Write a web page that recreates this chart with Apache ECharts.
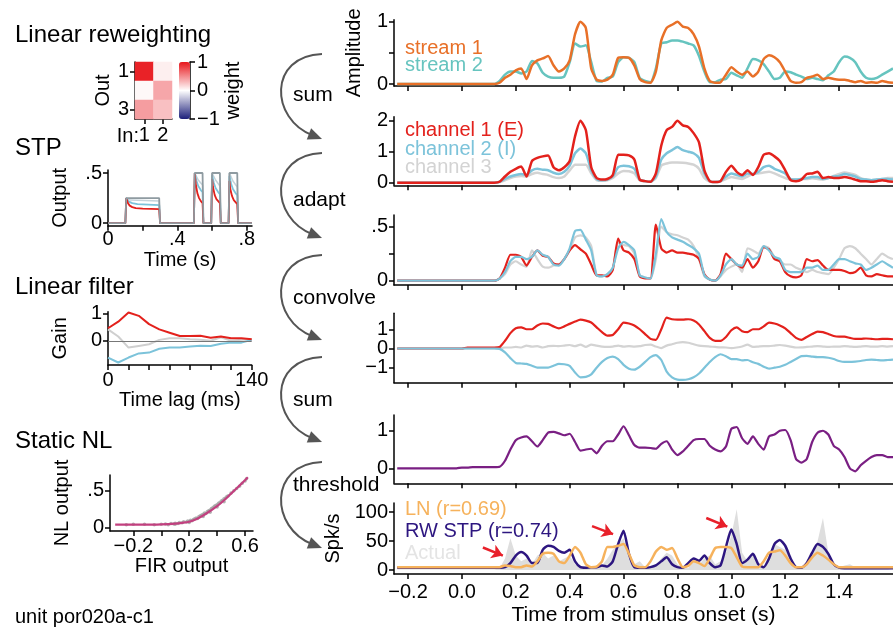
<!DOCTYPE html>
<html>
<head>
<meta charset="utf-8">
<script src="https://cdn.jsdelivr.net/npm/echarts@6/dist/echarts.min.js"></script>
<style>
html, body { margin: 0; padding: 0; background: #fff; }
#chart { width: 893px; height: 630px; }
</style>
</head>
<body>
<div id="chart"></div>
<script>
// ---- data ----
// traces on the right are sampled every 20 ms from -0.24 s
const tStart = -0.24, tStep = 0.02;
const timeTicks = [-0.2, 0, 0.2, 0.4, 0.6, 0.8, 1.0, 1.2, 1.4];

// stimulus envelopes
const stream1 = [0,0,0,0,0,0,0,0,0,0,0,0,0,0,0,0,0,0,0,
  0.02,0.1,0.15,0.22,0.25,0.08,0.3,0.38,0.41,0.45,
  0.3,0.2,0.25,0.38,0.8,1.0,0.9,0.25,0.07,0.05,
  0.07,0.15,0.42,0.43,0.42,0.3,0.08,0.03,0.02,0.2,
  0.7,0.9,0.95,1.0,0.92,0.9,0.8,0.6,0.25,0.05,
  0.02,0.03,0.15,0.27,0.2,0.15,0.2,0.12,0.2,0.4,
  0.46,0.43,0.35,0.2,0.05,0.02,0.03,0.1,0.12,0.15,
  0.08,0.1,0.08,0.07,0.07,0.05,0.03,0.05,0.02,0.03,
  0.02,0.05,0.03,0.02];
const stream2 = [0,0,0,0,0,0,0,0,0,0,0,0,0,0,0,0,0,0,0,
  0.05,0.15,0.2,0.2,0.17,0.2,0.37,0.33,0.18,0.12,
  0.1,0.1,0.12,0.35,0.65,0.6,0.62,0.35,0.05,0.04,
  0.1,0.12,0.35,0.43,0.42,0.35,0.1,0.05,0.03,0.25,
  0.65,0.67,0.7,0.7,0.68,0.65,0.62,0.45,0.2,0.03,
  0.03,0.07,0.08,0.18,0.14,0.1,0.25,0.4,0.38,0.32,
  0.2,0.08,0.1,0.2,0.19,0.15,0.12,0.08,0.1,0.08,
  0.06,0.14,0.2,0.35,0.44,0.42,0.35,0.2,0.1,0.08,
  0.1,0.15,0.2,0.25];

// reweighted channels
const chan1 = [0,0,0,0,0,0,0,0,0,0,0,0,0,0,0,0,0,0,0,
  0.03,0.2,0.35,0.45,0.52,0.2,0.7,0.8,0.85,0.88,
  0.5,0.4,0.5,0.7,1.5,2.0,1.7,0.5,0.15,0.1,
  0.12,0.25,0.9,0.9,0.88,0.75,0.1,0.05,0.03,0.3,
  1.2,1.7,1.8,2.0,1.85,1.8,1.6,1.3,0.4,0.05,
  0.02,0.05,0.35,0.55,0.35,0.25,0.4,0.25,0.5,0.9,
  0.95,0.85,0.7,0.4,0.08,0.05,0.1,0.28,0.3,0.35,
  0.15,0.18,0.15,0.15,0.18,0.15,0.1,0.05,0.05,0.03,
  0.05,0.08,0.05,0.03];
const chan2 = [0,0,0,0,0,0,0,0,0,0,0,0,0,0,0,0,0,0,0,
  0.03,0.12,0.2,0.25,0.28,0.25,0.4,0.45,0.42,0.4,
  0.32,0.28,0.35,0.55,0.95,1.1,0.95,0.4,0.12,0.08,
  0.1,0.2,0.5,0.55,0.53,0.45,0.1,0.05,0.03,0.2,
  0.75,0.95,1.05,1.15,1.05,1.0,0.95,0.8,0.3,0.05,
  0.02,0.05,0.2,0.3,0.25,0.2,0.3,0.28,0.35,0.5,
  0.55,0.45,0.38,0.3,0.12,0.1,0.12,0.15,0.18,0.18,
  0.12,0.15,0.2,0.22,0.28,0.25,0.2,0.12,0.1,0.08,
  0.1,0.12,0.12,0.1];
const chan3 = [0,0,0,0,0,0,0,0,0,0,0,0,0,0,0,0,0,0,0,
  0.02,0.08,0.15,0.2,0.22,0.2,0.28,0.32,0.28,0.25,
  0.18,0.15,0.2,0.4,0.58,0.58,0.58,0.3,0.08,0.06,
  0.08,0.15,0.3,0.38,0.37,0.3,0.08,0.04,0.03,0.15,
  0.55,0.62,0.65,0.65,0.64,0.62,0.58,0.45,0.15,0.03,
  0.02,0.04,0.12,0.18,0.15,0.12,0.2,0.28,0.3,0.33,
  0.35,0.3,0.22,0.15,0.1,0.1,0.12,0.12,0.14,0.12,
  0.1,0.15,0.22,0.28,0.33,0.3,0.25,0.15,0.1,0.08,
  0.1,0.12,0.15,0.15];

// after STP
const adapt1 = [0,0,0,0,0,0,0,0,0,0,0,0,0,0,0,0,0,0,0,
  0.02,0.12,0.24,0.24,0.22,0.14,0.22,0.28,0.23,0.22,
  0.16,0.15,0.2,0.28,0.33,0.29,0.25,0.15,0.05,0.05,
  0.04,0.1,0.39,0.28,0.26,0.2,0.04,0.02,0.02,0.52,
  0.3,0.26,0.28,0.26,0.26,0.25,0.24,0.2,0.06,0.01,
  0,0.06,0.25,0.2,0.15,0.12,0.2,0.12,0.18,0.31,
  0.29,0.2,0.18,0.08,0.04,0.03,0.05,0.2,0.18,0.19,
  0.14,0.1,0.1,0.1,0.09,0.07,0.08,0.12,0.05,0.04,
  0.06,0.05,0.04,0.04];
const adapt2 = [0,0,0,0,0,0,0,0,0,0,0,0,0,0,0,0,0,0,0,
  0.02,0.08,0.18,0.22,0.22,0.2,0.22,0.28,0.24,0.22,
  0.15,0.14,0.2,0.3,0.46,0.47,0.38,0.28,0.05,0.04,
  0.06,0.12,0.3,0.36,0.33,0.28,0.05,0.03,0.02,0.25,
  0.57,0.45,0.4,0.38,0.36,0.33,0.3,0.25,0.05,0.01,
  0,0.05,0.15,0.2,0.15,0.14,0.25,0.2,0.22,0.32,
  0.28,0.22,0.2,0.1,0.08,0.08,0.08,0.12,0.12,0.14,
  0.1,0.1,0.15,0.2,0.2,0.18,0.16,0.15,0.1,0.12,
  0.15,0.18,0.15,0.12];
const adapt3 = [0,0,0,0,0,0,0,0,0,0,0,0,0,0,0,0,0,0,0,
  0.02,0.06,0.15,0.18,0.15,0.13,0.28,0.2,0.13,0.12,
  0.14,0.15,0.2,0.28,0.4,0.42,0.4,0.32,0.05,0.04,
  0.06,0.12,0.35,0.33,0.32,0.25,0.05,0.03,0.02,0.2,
  0.5,0.45,0.43,0.42,0.4,0.38,0.32,0.2,0.04,0.01,
  0,0.04,0.1,0.13,0.15,0.08,0.3,0.28,0.25,0.32,
  0.3,0.22,0.18,0.15,0.15,0.12,0.1,0.08,0.1,0.08,
  0.07,0.06,0.12,0.2,0.3,0.32,0.3,0.25,0.2,0.15,
  0.2,0.25,0.22,0.2];

// after the linear filters
const filt1 = [0,0,0,0,0,0,0,0,0,0,0,0,0,0.05,0.05,0.05,0.05,0.05,0.05,
  0.08,0.4,0.8,1.05,1.1,1.0,1.0,1.2,1.3,1.28,
  1.15,1.05,1.15,1.28,1.4,1.5,1.45,1.35,1.1,0.85,
  0.67,0.7,1.0,1.35,1.3,1.2,1.0,0.75,0.5,0.45,
  1.0,1.6,1.52,1.5,1.5,1.52,1.45,1.25,0.9,0.55,
  0.4,0.4,0.6,0.95,1.1,0.9,0.85,1.0,1.0,1.15,
  1.35,1.3,1.2,1.05,0.8,0.55,0.45,0.6,0.75,0.88,
  0.85,0.75,0.65,0.62,0.62,0.55,0.5,0.5,0.52,0.5,
  0.48,0.5,0.5,0.48];
const filt2 = [0,0,0,0,0,0,0,0,0,0,0,0,0,0,0,0,0,0,0,
  -0.02,-0.2,-0.5,-0.75,-0.78,-0.8,-0.9,-1.0,-1.0,-1.0,
  -0.9,-0.8,-0.82,-0.9,-1.25,-1.5,-1.48,-1.35,-1.0,-0.7,
  -0.5,-0.42,-0.55,-0.85,-1.05,-1.1,-0.95,-0.7,-0.45,-0.35,
  -0.6,-1.2,-1.5,-1.62,-1.63,-1.6,-1.5,-1.3,-1.0,-0.7,
  -0.45,-0.3,-0.4,-0.55,-0.55,-0.62,-0.6,-0.72,-0.8,-0.95,
  -1.05,-1.0,-0.95,-0.85,-0.7,-0.55,-0.4,-0.38,-0.42,-0.45,
  -0.45,-0.48,-0.55,-0.65,-0.7,-0.7,-0.68,-0.65,-0.6,-0.58,
  -0.6,-0.62,-0.6,-0.58];
const filt3 = [0,0,0,0,0,0,0,0,0,0,0,0,0,0,0,0,0,0,0,
  0.02,0.05,0.05,0.08,0.05,0.15,0.1,0.12,0.05,0.12,
  0.14,0.12,0.15,0.18,0.12,0.2,0.08,0.2,0.15,0.1,
  0.08,0.1,0.15,0.1,0.12,0.1,0.12,0.18,0.2,0.1,
  0.02,0.15,0.22,0.3,0.33,0.3,0.22,0.15,0.12,0.1,
  0.08,0.06,0.05,0.02,0.05,0.1,0.2,0.08,0.1,0.12,
  0.12,0.15,0.18,0.15,0.1,0.05,0.06,0.08,0.1,0.12,
  0.1,0.08,0.1,0.1,0.12,0.1,0.08,0.1,0.12,0.1,
  0.1,0.12,0.1,0.12];

// summed drive
const summed = [0,0,0,0,0,0,0,0,0,0,0,0,0.02,0.02,0.03,0.03,0.03,0.03,0.03,
  0.04,0.2,0.5,0.75,0.82,0.85,0.72,0.58,0.75,0.95,
  0.97,0.93,0.88,0.92,0.7,0.47,0.5,0.52,0.4,0.6,
  0.72,0.72,0.9,1.12,0.88,0.62,0.55,0.55,0.54,0.52,
  0.65,0.72,0.5,0.35,0.45,0.6,0.75,0.78,0.78,0.6,
  0.5,0.45,0.58,1.05,1.1,0.8,0.65,0.85,0.65,0.5,
  0.85,0.9,1.0,1.02,0.75,0.25,0.15,0.25,0.7,0.95,
  1.0,0.9,0.6,0.5,0.3,0.0,-0.08,0.08,0.2,0.3,
  0.35,0.35,0.3,0.3];

// spike rates (spk/s)
const rateLN = [5,5,5,5,5,5,5,5,5,5,5,5,5,5,5,5,5,5,5,
  5,8,7,5,5,8,6,15,28,30,
  28,15,12,25,40,30,10,5,6,15,
  40,40,42,45,28,8,5,5,15,32,
  40,35,38,20,5,7,15,12,7,20,
  38,40,40,38,22,6,5,5,5,15,
  30,32,34,25,12,5,5,10,22,30,
  25,18,10,5,5,5,5,5,5,5,
  5,5,5,5];
const rateRW = [4,4,4,4,4,4,4,4,4,4,4,4,4,4,4,4,4,4,4,
  4,5,12,25,31,25,12,12,35,42,
  40,33,30,35,15,5,4,5,5,8,
  6,15,45,68,28,5,4,4,5,8,
  15,22,10,5,4,12,20,16,25,12,
  5,8,40,70,45,12,18,28,10,5,
  20,45,52,42,20,5,4,12,30,45,
  40,28,10,4,3,3,3,3,3,3,
  3,3,3,3];
const rateActual = [1,1,1,1,1,1,1,1,1,1,1,1,1,1,1,1,1,1,1,
  3,20,55,25,15,20,10,25,30,20,
  25,15,20,25,10,5,3,5,3,8,
  20,35,45,55,20,10,15,5,5,10,
  20,30,25,10,5,3,15,10,20,25,
  10,15,30,60,105,30,15,25,10,5,
  25,45,40,35,20,5,3,10,25,50,
  90,30,10,5,8,10,5,3,2,2,
  2,2,2,2];

// red pointers on the rate panel: [from, to] in (s, spk/s)
const pointerArrows = [
  [[0.078, 39], [0.152, 25]],
  [[0.483, 76], [0.561, 62]],
  [[0.907, 90], [0.985, 75]]
];

// linear reweighting matrix (row = out, col = in)
const weightIn = ['1', '2'];
const weightOut = ['1', '2', '3'];
const weights = [[0.95, 0.07], [0.03, 0.38], [0.42, 0.27]];

// STP demo: [time (s), output]
const stpStim = [[0,0],[0.1,0],[0.105,0.25],[0.295,0.25],[0.3,0],[0.495,0],[0.5,0.5],[0.545,0.5],[0.55,0],
  [0.595,0],[0.6,0.5],[0.645,0.5],[0.65,0],[0.695,0],[0.7,0.5],[0.745,0.5],[0.75,0],[0.83,0]];
const stpRed = [[0,0],[0.1,0],[0.105,0.25],[0.115,0.2],[0.125,0.175],[0.14,0.16],[0.16,0.15],[0.2,0.145],
  [0.295,0.14],[0.3,0],[0.495,0],[0.5,0.5],[0.505,0.4],[0.515,0.3],[0.525,0.25],[0.535,0.22],[0.545,0.2],
  [0.55,0],[0.595,0],[0.6,0.44],[0.605,0.36],[0.615,0.28],[0.625,0.24],[0.635,0.22],[0.645,0.2],[0.65,0],
  [0.695,0],[0.7,0.42],[0.705,0.34],[0.715,0.27],[0.725,0.23],[0.735,0.21],[0.745,0.19],[0.75,0],[0.83,0]];
const stpBlue = [[0,0],[0.1,0],[0.105,0.25],[0.12,0.215],[0.14,0.2],[0.17,0.19],[0.295,0.18],[0.3,0],
  [0.495,0],[0.5,0.5],[0.51,0.42],[0.52,0.37],[0.535,0.33],[0.545,0.31],[0.55,0],[0.595,0],[0.6,0.48],
  [0.61,0.4],[0.62,0.35],[0.635,0.31],[0.645,0.29],[0.65,0],[0.695,0],[0.7,0.47],[0.71,0.39],[0.72,0.34],
  [0.735,0.3],[0.745,0.28],[0.75,0],[0.83,0]];
const stpGrey = [[0,0],[0.1,0],[0.105,0.25],[0.13,0.23],[0.295,0.22],[0.3,0],[0.495,0],[0.5,0.5],[0.52,0.43],
  [0.545,0.38],[0.55,0],[0.595,0],[0.6,0.5],[0.62,0.43],[0.645,0.37],[0.65,0],[0.695,0],[0.7,0.5],[0.72,0.42],
  [0.745,0.36],[0.75,0],[0.83,0]];

// linear filters, lag in ms
const lags = [0,10,20,30,40,50,60,70,80,90,100,110,120,130,140];
const firRed = [0.46,0.7,1.03,0.91,0.61,0.42,0.3,0.18,0.18,0.19,0.12,0.16,0.1,0.1,0.06];
const firGrey = [0.42,0.16,-0.24,-0.18,-0.12,0.04,0.1,0.1,0.06,0.04,0.01,0.13,0.01,0.04,0.06];
const firBlue = [-0.6,-0.78,-0.6,-0.45,-0.42,-0.28,-0.24,-0.24,-0.2,-0.17,-0.18,-0.1,-0.06,-0.06,0.04];

// static nonlinearity
const nlCurve = [[-0.33,0.04],[-0.2,0.04],[-0.1,0.04],[0,0.045],[0.1,0.055],[0.15,0.065],[0.2,0.08],
  [0.25,0.115],[0.3,0.165],[0.35,0.225],[0.4,0.29],[0.45,0.37],[0.5,0.46],[0.55,0.55],[0.6,0.64],[0.62,0.68]];
const nlPoints = [[-0.25,0.04],[-0.2,0.045],[-0.12,0.045],[-0.05,0.04],[0.0,0.045],[0.03,0.05],[0.05,0.04],
  [0.07,0.055],[0.09,0.05],[0.1,0.06],[0.1,0.045],[0.12,0.055],[0.13,0.07],[0.15,0.065],[0.16,0.08],
  [0.18,0.075],[0.19,0.09],[0.2,0.085],[0.2,0.07],[0.21,0.1],[0.22,0.095],[0.23,0.11],[0.24,0.12],
  [0.25,0.13],[0.26,0.125],[0.27,0.15],[0.28,0.16],[0.29,0.17],[0.3,0.18],[0.3,0.15],[0.31,0.2],
  [0.32,0.19],[0.33,0.22],[0.34,0.23],[0.35,0.24],[0.35,0.21],[0.36,0.26],[0.37,0.27],[0.38,0.29],
  [0.39,0.3],[0.4,0.31],[0.4,0.28],[0.41,0.33],[0.42,0.34],[0.43,0.36],[0.44,0.37],[0.45,0.39],
  [0.45,0.35],[0.46,0.4],[0.47,0.42],[0.48,0.43],[0.5,0.47],[0.52,0.5],[0.54,0.53],[0.56,0.56],
  [0.58,0.6],[0.6,0.63],[0.61,0.66]];

// ---- styling ----
const FONT = '"Liberation Sans", Arial, Helvetica, sans-serif';
const C = {
  orange: '#e87028', teal: '#66c4bf', red: '#e3211c', blue: '#7cc3da', grey: '#d3d3d3',
  purple: '#7a1f83', ln: '#f6b25c', rw: '#2d1680', actual: '#dedede', stim: '#8f9ba1',
  nl: '#c2407f', dots: '#a0a0a0', arrow: '#555555', pointer: '#e8202a'
};

function minus(v) { return v < 0 ? '\u2212' + Math.abs(v) : String(v); }
function short(v) { let s = String(Math.abs(v)); if (s.indexOf('0.') === 0) s = s.slice(1); return (v < 0 ? '\u2212' : '') + s; }
function fixed1(v) { return (v < 0 ? '\u2212' : '') + Math.abs(v).toFixed(1); }

const grids = [], xAxes = [], yAxes = [], series = [];

function axis(o) {
  const lineStyle = { color: '#000', width: 1.5 };
  return {
    type: o.type || 'value', gridIndex: o.grid, min: o.min, max: o.max, position: o.position,
    data: o.data, inverse: o.inverse, show: o.show !== false,
    axisLine: { show: true, onZero: false, lineStyle },
    axisTick: o.category ? { show: true, length: 5, alignWithLabel: true, interval: o.tickInterval, lineStyle }
                         : { show: true, length: 5, customValues: o.ticks, lineStyle },
    axisLabel: o.labels || o.category ? {
      show: true, customValues: o.labels, formatter: o.fmt, color: '#000', fontSize: 20,
      fontFamily: FONT, margin: o.margin == null ? 6 : o.margin, interval: 0,
      hideOverlap: false, showMinLabel: true, showMaxLabel: true
    } : { show: false },
    splitLine: { show: false },
    name: o.name || '', nameLocation: 'middle', nameGap: o.nameGap, nameRotate: o.nameRotate,
    nameTextStyle: { color: '#000', fontSize: o.nameSize || 20, fontFamily: FONT }
  };
}
function addGrid(box, xa, ya) {
  const i = grids.length;
  grids.push(Object.assign({ outerBoundsMode: 'none', containLabel: false }, box));
  xAxes.push(axis(Object.assign({ grid: i }, xa)));
  yAxes.push(axis(Object.assign({ grid: i }, ya)));
  return i;
}
function line(g, data, color, width, extra) {
  return Object.assign({
    type: 'line', xAxisIndex: g, yAxisIndex: g, data, symbol: 'none', showSymbol: false,
    lineStyle: { color, width }, itemStyle: { color }, silent: true, z: 3
  }, extra || {});
}

// heatmap + colour bar
const gHeat = addGrid({ left: 135, top: 62, width: 37, height: 57 },
  { type: 'category', category: true, data: weightIn },
  { type: 'category', category: true, data: weightOut, inverse: true, name: 'Out', nameGap: 22,
    fmt: v => (v === '2' ? '' : v), tickInterval: i => i !== 1 });
const gBar = addGrid({ left: 179, top: 62, width: 11, height: 57 },
  { show: false, min: 0, max: 1 },
  { position: 'right', min: -1, max: 1, ticks: [-1, 0, 1], labels: [-1, 0, 1], fmt: minus, margin: 7,
    name: 'weight', nameGap: 30, nameRotate: 90 });
const heatData = [];
weights.forEach((row, r) => row.forEach((v, c) => heatData.push([c, r, v])));
series.push({ type: 'heatmap', xAxisIndex: gHeat, yAxisIndex: gHeat, data: heatData, silent: true,
  itemStyle: { borderWidth: 0 } });
series.push(line(gBar, [], '#000', 1));

// STP
const gStp = addGrid({ left: 108, top: 170, width: 144, height: 55.7 },
  { min: 0, max: 0.83, ticks: [0, 0.2, 0.4, 0.6, 0.8], labels: [0, 0.4, 0.8], fmt: short, margin: 4,
    name: 'Time (s)', nameGap: 23 },
  { min: -0.025, max: 0.53, ticks: [0, 0.5], labels: [0, 0.5], fmt: short, name: 'Output', nameGap: 38 });
series.push(line(gStp, stpGrey, '#c5d3da', 1.5));
series.push(line(gStp, stpBlue, C.blue, 1.8));
series.push(line(gStp, stpRed, C.red, 1.8));
series.push(line(gStp, stpStim, C.stim, 1.8));

// linear filter
const gFir = addGrid({ left: 108, top: 311.7, width: 143.7, height: 53.3 },
  { min: 0, max: 140, ticks: lags.filter((l, i) => i % 2 === 0), labels: [0, 140], margin: 5,
    name: 'Time lag (ms)', nameGap: 19 },
  { min: -0.87, max: 1.06, ticks: [0, 1], labels: [0, 1], fmt: minus, name: 'Gain', nameGap: 38 });
series.push(line(gFir, lags.map((l, i) => [l, firGrey[i]]), '#cfcfcf', 2, {
  markLine: { silent: true, symbol: 'none', label: { show: false }, lineStyle: { color: '#777', width: 1, type: 'solid' },
    data: [{ yAxis: 0 }] } }));
series.push(line(gFir, lags.map((l, i) => [l, firBlue[i]]), C.blue, 2));
series.push(line(gFir, lags.map((l, i) => [l, firRed[i]]), C.red, 2));

// static NL
const gNl = addGrid({ left: 110, top: 475, width: 143, height: 56 },
  { min: -0.367, max: 0.657, ticks: [-0.2, 0, 0.2, 0.4, 0.6], labels: [-0.2, 0.2, 0.6], fmt: minus, margin: 5,
    name: 'FIR output', nameGap: 23 },
  { min: -0.045, max: 0.712, ticks: [0, 0.5], labels: [0, 0.5], fmt: short, name: 'NL output', nameGap: 38 });
series.push({ type: 'scatter', xAxisIndex: gNl, yAxisIndex: gNl, data: nlPoints, symbolSize: 3.5,
  itemStyle: { color: C.dots }, silent: true });
series.push(line(gNl, nlCurve, C.nl, 2.2, { smooth: 0.3 }));

// right-hand column
const rightPanels = [
  { top: 19.8, height: 66.1, min: -0.03, max: 1.03, ticks: [0, 0.5, 1], labels: [0, 1], name: 'Amplitude', nameGap: 30 },
  { top: 116.7, height: 68.6, min: -0.084, max: 2.13, ticks: [0, 1, 2], labels: [0, 1, 2] },
  { top: 215, height: 70, min: -0.04, max: 0.608, ticks: [0, 0.25, 0.5], labels: [0, 0.5] },
  { top: 313.3, height: 69.4, min: -1.78, max: 1.83, ticks: [-1, 0, 1], labels: [-1, 1], lateLabels: [0] },
  { top: 415, height: 68.3, min: -0.4, max: 1.42, ticks: [0, 1], labels: [0, 1] },
  { top: 503, height: 71, min: -6.9, max: 116, ticks: [0, 50, 100], labels: [0, 50, 100], name: 'Spk/s', nameGap: 34 }
];
const gR = rightPanels.map((p, k) => addGrid({ left: 394, right: 0, top: p.top, height: p.height },
  k === 5 ? { min: -0.252, max: 1.6, ticks: timeTicks, labels: timeTicks, fmt: fixed1, margin: 8,
              name: 'Time from stimulus onset (s)', nameGap: 31, nameSize: 21 }
          : { min: -0.252, max: 1.6, ticks: timeTicks },
  { min: p.min, max: p.max, ticks: p.ticks, labels: p.labels, fmt: k === 2 ? short : minus,
    name: p.name, nameGap: p.nameGap }));

const pairs = arr => arr.map((v, i) => [tStart + i * tStep, v]);
const sm = { smooth: 0.2 };
series.push(line(gR[0], pairs(stream2), C.teal, 2.5, sm));
series.push(line(gR[0], pairs(stream1), C.orange, 2.5, sm));
series.push(line(gR[1], pairs(chan3), C.grey, 2.5, sm));
series.push(line(gR[1], pairs(chan2), C.blue, 2.5, sm));
series.push(line(gR[1], pairs(chan1), C.red, 2.5, sm));
series.push(line(gR[2], pairs(adapt3), C.grey, 2.2, sm));
series.push(line(gR[2], pairs(adapt1), C.red, 2.2, sm));
series.push(line(gR[2], pairs(adapt2), C.blue, 2.2, sm));
series.push(line(gR[3], pairs(filt3), C.grey, 2.2, sm));
series.push(line(gR[3], pairs(filt1), C.red, 2.2, sm));
series.push(line(gR[3], pairs(filt2), C.blue, 2.2, sm));
series.push(line(gR[4], pairs(summed), C.purple, 2.2, sm));
series.push(line(gR[5], pairs(rateActual), C.actual, 0, { areaStyle: { color: C.actual, opacity: 1 }, z: 2 }));
series.push(line(gR[5], pairs(rateRW), C.rw, 2.5, sm));
series.push(line(gR[5], pairs(rateLN), C.ln, 2.5, sm));
series.push({ type: 'lines', coordinateSystem: 'cartesian2d', xAxisIndex: gR[5], yAxisIndex: gR[5],
  symbol: ['none', 'arrow'], symbolSize: 11, silent: true, z: 5,
  lineStyle: { color: C.pointer, width: 2.5, opacity: 1 },
  data: pointerArrows.map(a => ({ coords: a })) });

// ---- text and connectors ----
function text(str, x, y, size, fill, align) {
  return { type: 'text', x, y, silent: true, z: 10,
    style: { text: str, font: size + 'px ' + FONT, fill: fill || '#000', align: align || 'left', verticalAlign: 'middle' } };
}
const graphics = [
  text('Linear reweighting', 15, 35, 24),
  text('STP', 15, 148, 24),
  text('Linear filter', 15, 287, 24),
  text('Static NL', 15, 441, 24),
  text('unit por020a-c1', 15, 617, 20),
  text('In:', 139, 136, 20, '#000', 'right'),
  text('stream 1', 405, 48, 20, C.orange),
  text('stream 2', 405, 65, 20, C.teal),
  text('channel 1 (E)', 405, 130, 20, C.red),
  text('channel 2 (I)', 405, 149, 20, C.blue),
  text('channel 3', 405, 167, 20, C.grey),
  text('LN (r=0.69)', 405, 509, 20, C.ln),
  text('RW STP (r=0.74)', 405, 531, 20, C.rw),
  text('Actual', 405, 553, 20, '#e4e4e4')
];
// curved arrows between the stages
const stageArcs = [[54, 139], [153, 238], [255, 340], [357, 442], [462, 548]];
const stageNames = [['sum', 95], ['adapt', 200], ['convolve', 298], ['sum', 400], ['threshold', 485]];
stageArcs.forEach(([y0, y1]) => {
  const tipX = 322, dx = 52, dy = 20, len = Math.hypot(dx, dy), ux = dx / len, uy = dy / len;
  const endX = tipX - 10 * ux, endY = y1 - 10 * uy;
  graphics.push({ type: 'bezierCurve', silent: true,
    shape: { x1: 322, y1: y0, cpx1: 268, cpy1: y0 + 2, cpx2: 270, cpy2: y1 - 20, x2: endX, y2: endY },
    style: { stroke: C.arrow, lineWidth: 2, fill: null } });
  const bx = tipX - 14 * ux, by = y1 - 14 * uy;
  graphics.push({ type: 'polygon', silent: true,
    shape: { points: [[tipX, y1], [bx - 6 * uy, by + 6 * ux], [bx + 6 * uy, by - 6 * ux]] },
    style: { fill: C.arrow } });
});
stageNames.forEach(([s, y]) => graphics.push(text(s, 293, y, 21)));

const chart = echarts.init(document.getElementById('chart'), null, { renderer: 'canvas' });
chart.setOption({
  animation: false,
  backgroundColor: '#fff',
  textStyle: { fontFamily: FONT },
  grid: grids,
  xAxis: xAxes,
  yAxis: yAxes,
  visualMap: {
    type: 'continuous', seriesIndex: 0, min: -1, max: 1, calculable: false, orient: 'vertical',
    left: 179, top: 62, itemWidth: 11, itemHeight: 57, padding: 0,
    inRange: { color: ['#1c1f7a', '#ffffff', '#e8161c'] }, textStyle: { fontSize: 0 }
  },
  series,
  graphic: graphics
});

// the axis drops the mid label of the convolve panel, so place it through the axis scale
rightPanels.forEach((p, k) => {
  (p.lateLabels || []).forEach(v => {
    const y = chart.convertToPixel({ yAxisIndex: gR[k] }, v);
    graphics.push(text(minus(v), 394 - 6, y, 20, '#000', 'right'));
  });
});
chart.setOption({ graphic: graphics });
</script>
</body>
</html>
